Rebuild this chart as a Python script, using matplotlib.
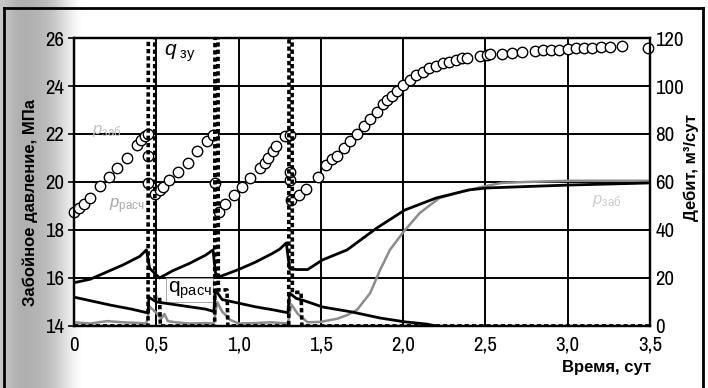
import numpy as np
import matplotlib.pyplot as plt
from matplotlib.lines import Line2D
from matplotlib import font_manager

# ---- data ----
# open circles: bottomhole pressure, MPa (left axis)
t_circ = [0.0, 0.03, 0.06, 0.10, 0.16, 0.21, 0.26, 0.32, 0.38, 0.41, 0.43, 0.45,
          0.45, 0.45, 0.49, 0.52, 0.54, 0.58, 0.63, 0.69, 0.75, 0.81, 0.845,
          0.857, 0.88, 0.92, 0.97, 1.02, 1.07, 1.13, 1.16, 1.18, 1.21, 1.23, 1.28, 1.31,
          1.31, 1.31, 1.32, 1.37, 1.41, 1.48, 1.53, 1.57, 1.60, 1.64, 1.68, 1.72, 1.76,
          1.80, 1.84, 1.88, 1.90, 1.93, 1.96, 2.00, 2.04, 2.08, 2.12, 2.16, 2.20, 2.24,
          2.28, 2.32, 2.36, 2.39, 2.47, 2.51, 2.53, 2.60, 2.66, 2.72, 2.80, 2.85, 2.90,
          2.95, 3.00, 3.05, 3.10, 3.15, 3.20, 3.26, 3.33, 3.49]
p_circ = [18.75, 18.9, 19.1, 19.33, 19.83, 20.2, 20.58, 21.0, 21.54, 21.75, 21.9, 22.0,
          21.1, 19.96, 19.5, 19.65, 19.8, 20.1, 20.4, 20.8, 21.3, 21.7, 21.96,
          19.96, 18.75, 19.1, 19.46, 19.8, 20.17, 20.6, 20.8, 21.0, 21.3, 21.5, 21.9, 21.96,
          20.1, 20.42, 19.25, 19.45, 19.7, 20.2, 20.7, 20.95, 21.08, 21.4, 21.72, 22.0, 22.32,
          22.63, 22.93, 23.23, 23.4, 23.6, 23.8, 24.04, 24.25, 24.45, 24.6, 24.75, 24.85, 24.95,
          25.02, 25.1, 25.15, 25.17, 25.27, 25.3, 25.32, 25.35, 25.38, 25.4, 25.45, 25.48, 25.5,
          25.52, 25.55, 25.57, 25.58, 25.6, 25.62, 25.64, 25.66, 25.6]

# black rising curve, MPa (left axis)
t_prise = [0.0, 0.1, 0.2, 0.3, 0.4, 0.44, 0.46, 0.52, 0.6, 0.7, 0.8, 0.845, 0.86, 0.88,
           1.0, 1.1, 1.2, 1.25, 1.29, 1.31, 1.35, 1.42, 1.51, 1.66, 1.84, 2.01, 2.2,
           2.4, 2.51, 2.71, 3.0, 3.5]
p_prise = [15.8, 15.95, 16.25, 16.55, 16.9, 17.17, 16.4, 16.0, 16.3, 16.6, 16.95, 17.17,
           16.2, 16.04, 16.35, 16.65, 17.0, 17.2, 17.46, 16.4, 16.35, 16.35, 16.75, 17.17,
           18.08, 18.83, 19.33, 19.67, 19.75, 19.8, 19.87, 19.96]

# grey curve, MPa (left axis)
t_grey = [0.0, 0.1, 0.2, 0.3, 0.4, 0.44, 0.46, 0.5, 0.53, 0.55, 0.57, 0.62, 0.7, 0.8,
          0.85, 0.87, 0.9, 0.95, 1.0, 1.1, 1.2, 1.3, 1.32, 1.36, 1.42, 1.5, 1.6, 1.66,
          1.72, 1.8, 1.86, 1.92, 2.0, 2.1, 2.22, 2.33, 2.48, 2.6, 2.75, 3.0, 3.25, 3.5]
p_grey = [14.15, 14.1, 14.2, 14.15, 14.12, 14.1, 14.8, 14.55, 14.3, 14.5, 14.2, 14.15,
          14.1, 14.12, 14.1, 15.0, 14.6, 14.25, 14.1, 14.12, 14.15, 14.1, 14.9, 14.5,
          14.15, 14.17, 14.3, 14.45, 14.67, 15.37, 16.33, 17.17, 17.9, 18.7, 19.33,
          19.54, 19.8, 19.96, 20.0, 20.05, 20.05, 20.05]

# q_расч, m3/day (right axis)
t_qr = [0.0, 0.1, 0.22, 0.35, 0.45, 0.455, 0.5, 0.6, 0.7, 0.8, 0.85, 0.86, 0.9, 1.0,
        1.1, 1.21, 1.3, 1.31, 1.35, 1.4, 1.51, 1.69, 1.86, 2.01, 2.14, 2.2]
q_r = [12.0, 10.5, 8.7, 7.0, 5.4, 12.0, 10.0, 9.0, 8.0, 7.0, 6.0, 15.0, 11.0, 9.5,
       8.0, 6.7, 5.5, 13.7, 11.5, 10.5, 7.9, 5.8, 3.3, 1.7, 0.8, 0.0]

# q_зу, m3/day (right axis)
t_qz = [0.0, 0.45, 0.452, 0.49, 0.492, 0.52, 0.525, 0.855, 0.857, 0.875, 0.877, 0.93,
        0.935, 1.305, 1.307, 1.325, 1.327, 1.38, 1.385, 3.5]
q_z = [0, 0, 150, 150, 12, 12, 0, 0, 150, 150, 15, 15, 0, 0, 150, 150, 14, 14, 0, 0]

xticks = [0, 0.5, 1.0, 1.5, 2.0, 2.5, 3.0, 3.5]
xlabels = ["0", "0,5", "1,0", "1,5", "2,0", "2,5", "3,0", "3,5"]
yticks = [14, 16, 18, 20, 22, 24, 26]
qticks = [0, 20, 40, 60, 80, 100, 120]

# narrow face for the tick numbers, if one is installed
have = {f.name for f in font_manager.fontManager.ttflist}
narrow = 'Liberation Sans'
for cand in ['Liberation Sans Narrow', 'Arial Narrow', 'Archivo Narrow', 'PT Sans Narrow',
             'Roboto Condensed', 'Pragati Narrow', 'Fira Sans Condensed',
             'Barlow Semi Condensed', 'Asap Condensed']:
    if cand in have:
        narrow = cand
        break

lab_font = ['Liberation Sans', 'DejaVu Sans']
plt.rcParams['font.family'] = lab_font
plt.rcParams['mathtext.fontset'] = 'custom'
plt.rcParams['mathtext.rm'] = 'Liberation Sans'
plt.rcParams['mathtext.it'] = 'Liberation Sans:italic'
tick_fp = font_manager.FontProperties(family=narrow, size=15)

fig = plt.figure(figsize=(7.08, 3.88), dpi=100)

# scanned grey strip on the left
bg = fig.add_axes([0, 0, 0.12, 1], zorder=-5)
grad = np.array([[0.78, 0.70, 0.68, 0.70, 0.72, 0.76, 0.84, 0.93, 1.0]])
bg.imshow(grad, cmap='gray', vmin=0, vmax=1, aspect='auto', interpolation='bicubic',
          extent=[0, 1, 0, 1])
bg.axis('off')

ax = fig.add_axes([0.1045, 0.160, 0.8135, 0.742])
ax2 = ax.twinx()

ax.set_xlim(0, 3.5)
ax.set_ylim(14, 26)
ax2.set_ylim(0, 120)
ax.patch.set_facecolor('white')

ax.grid(True, color='black', lw=1.4)
ax.set_axisbelow(True)

ax.plot(t_grey, p_grey, color='#8c8c8c', lw=1.8, zorder=3)
ax.plot(t_prise, p_prise, color='black', lw=2.0, zorder=4)
ax2.plot(t_qr, q_r, color='black', lw=2.0, zorder=4)
ax2.plot(t_qz, q_z, color='black', lw=2.6, ls=(0, (1.2, 0.8)), zorder=5)
ax.plot(t_circ, p_circ, 'o', mfc='white', mec='black', ms=7.5, mew=1.0, zorder=6,
        clip_on=False)

ax.set_xticks(xticks)
ax.set_xticklabels(xlabels, fontproperties=tick_fp)
ax.set_yticks(yticks)
ax.set_yticklabels([str(v) for v in yticks], fontproperties=tick_fp)
ax2.set_yticks(qticks)
ax2.set_yticklabels([str(v) for v in qticks], fontproperties=tick_fp)
ax.tick_params(axis='y', length=4, width=1.2, pad=3)
ax.tick_params(axis='x', length=0, pad=7)
ax2.tick_params(axis='y', length=0, pad=4)
for a in (ax, ax2):
    for s in a.spines.values():
        s.set_linewidth(1.6)

ax.set_ylabel("Забойное давление, МПа", fontsize=12, fontweight='bold')
ax.yaxis.set_label_coords(-0.062, 0.43)
ax2.set_ylabel("Дебит, м³/сут", fontsize=12, fontweight='bold')
ax2.yaxis.set_label_coords(1.058, 0.55)
ax.set_xlabel("Время, сут", fontsize=12, fontweight='bold', ha='right')
ax.xaxis.set_label_coords(1.003, -0.12)

# curve labels
ax.text(0.545, 25.35, r"$q_{\ \mathrm{зу}}$", fontsize=15, va='center')
ax.text(0.57, 15.5, r"q$_{\mathrm{расч}}$", fontsize=15, va='center',
        bbox=dict(facecolor='white', edgecolor='#999999', lw=0.6, pad=1))
ax.text(0.11, 22.0, r"$p_{\mathrm{заб}}$", fontsize=12, color='#c0c0c0')
ax.text(0.21, 18.9, r"$p_{\mathrm{расч}}$", fontsize=12, color='#a8a8a8')
ax.text(3.15, 19.1, r"$p_{\mathrm{заб}}$", fontsize=12, color='#cccccc')

# outer frame of the scan
for xs, ys in (([0.005, 0.005], [0, 0.98]), ([0.005, 0.993], [0.98, 0.98]),
               ([0.993, 0.993], [0, 0.98])):
    fig.add_artist(Line2D(xs, ys, color='black', lw=2.0, transform=fig.transFigure))

fig.savefig("out.png", dpi=100)
